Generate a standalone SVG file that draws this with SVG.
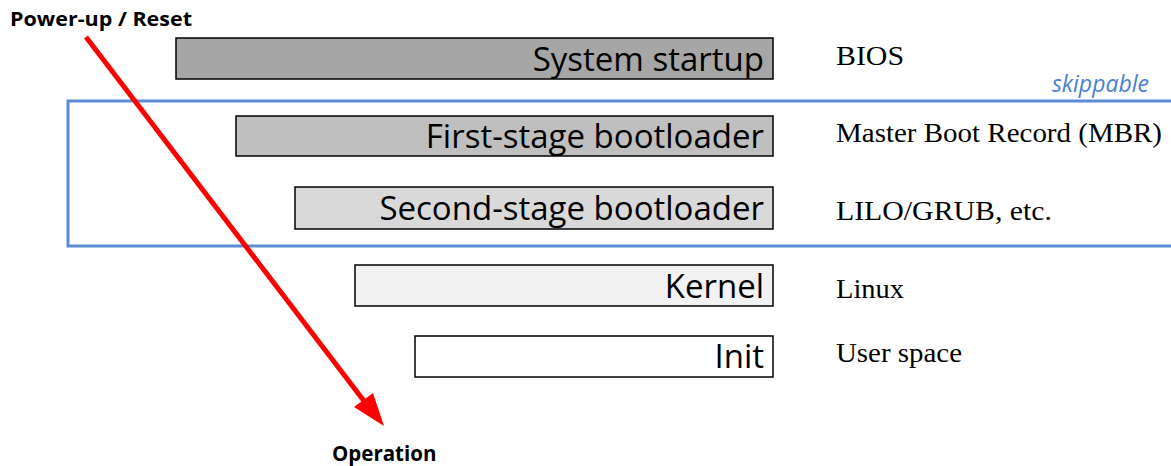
<svg xmlns="http://www.w3.org/2000/svg" width="1171" height="466" viewBox="0 0 1171 466">
<style>
.box{stroke:#000;stroke-width:1.5}
.bt{font-family:"Open Sans","Liberation Sans",sans-serif;font-size:33px;fill:#000;text-anchor:end}
.rl{font-family:"Liberation Serif",serif;font-size:27px;fill:#000}
.bold{font-family:"Open Sans","Liberation Sans",sans-serif;font-weight:bold;fill:#000}
</style>
<rect width="1171" height="466" fill="#fff"/>
<g id="skippable">
<rect x="68" y="101" width="1110" height="145" fill="none" stroke="#5b8bd5" stroke-width="3"/>
<text x="1149" y="92" font-family="Open Sans, Liberation Sans, sans-serif" font-size="23" font-style="italic" fill="#4a7fd0" text-anchor="end">skippable</text>
</g>
<g id="system-startup">
<rect class="box" x="176" y="38" width="597" height="41" fill="#a6a6a6"/>
<text class="bt" x="764" y="71">System startup</text>
</g>
<g id="first-stage">
<rect class="box" x="236" y="116" width="537" height="40" fill="#bfbfbf"/>
<text class="bt" x="764" y="148">First-stage bootloader</text>
</g>
<g id="second-stage">
<rect class="box" x="295" y="187" width="478" height="42" fill="#d9d9d9"/>
<text class="bt" x="764" y="220">Second-stage bootloader</text>
</g>
<g id="kernel">
<rect class="box" x="355" y="265" width="418" height="41" fill="#f2f2f2"/>
<text class="bt" x="764" y="298">Kernel</text>
</g>
<g id="init">
<rect class="box" x="415" y="336" width="358" height="41" fill="#fff"/>
<text class="bt" x="764" y="368">Init</text>
</g>
<g id="labels">
<text class="rl" x="836" y="65" textLength="68" lengthAdjust="spacingAndGlyphs">BIOS</text>
<text class="rl" x="836" y="142" textLength="326" lengthAdjust="spacingAndGlyphs">Master Boot Record (MBR)</text>
<text class="rl" x="836" y="220" textLength="216" lengthAdjust="spacingAndGlyphs">LILO/GRUB, etc.</text>
<text class="rl" x="836" y="298" textLength="68" lengthAdjust="spacingAndGlyphs">Linux</text>
<text class="rl" x="836" y="362" textLength="126" lengthAdjust="spacingAndGlyphs">User space</text>
<text class="bold" x="10" y="26" font-size="19" textLength="182" lengthAdjust="spacingAndGlyphs">Power-up / Reset</text>
<text class="bold" x="332" y="461" font-size="20.5">Operation</text>
</g>
<g id="connectors">
<line x1="86" y1="37" x2="364" y2="401" stroke="#ff0000" stroke-width="5"/>
<polygon points="384,426 354,407 373,393" fill="#ff0000"/>
</g>
</svg>
